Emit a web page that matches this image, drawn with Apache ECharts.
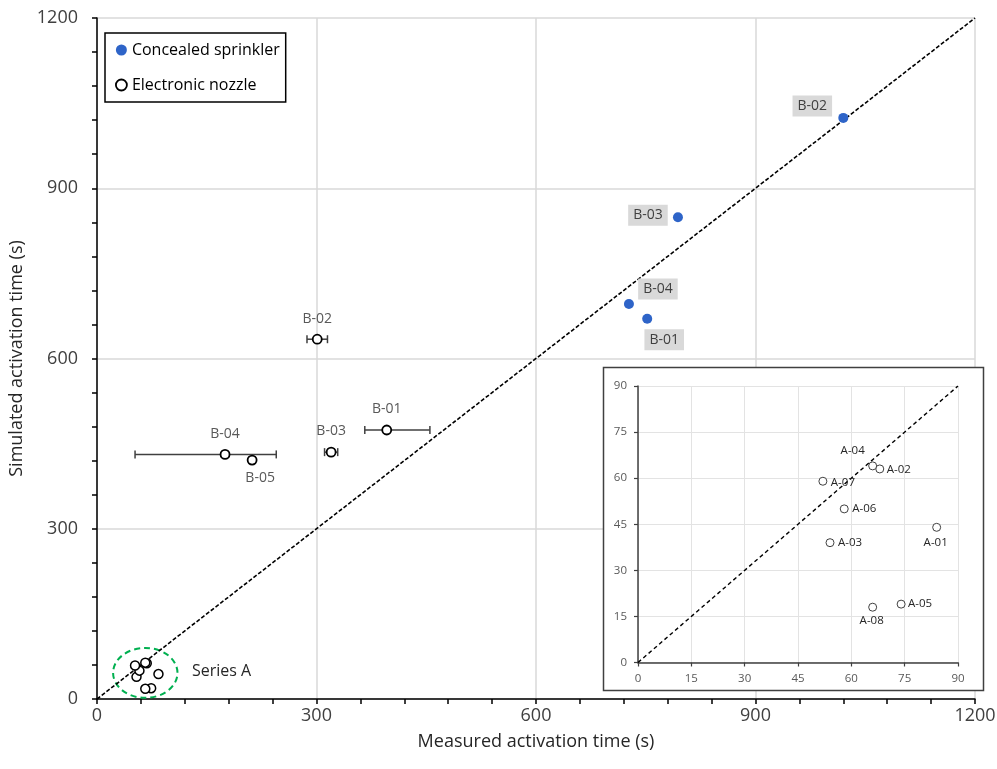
<!DOCTYPE html>
<html><head><meta charset="utf-8">
<script src="https://cdn.jsdelivr.net/npm/echarts@6/dist/echarts.min.js"></script>
<style>html,body{margin:0;padding:0;background:#fff}#c{width:997px;height:769px}</style>
</head><body><div id="c"></div>
<script>
// ---- data ----
const sprinklerNames = ['B-01','B-02','B-03','B-04'];
const sprinklerX = [752, 1020, 794, 727];
const sprinklerY = [670, 1024, 849, 696];

const nozzleBNames = ['B-01','B-02','B-03','B-04','B-05'];
const nozzleBX = [396, 301, 320, 175, 212];
const nozzleBY = [474, 634, 435, 431, 421];
const nozzleBErrLow  = [366, 287, 311, 52, null];
const nozzleBErrHigh = [455, 315, 329, 245, null];

const seriesANames = ['A-01','A-02','A-03','A-04','A-05','A-06','A-07','A-08'];
const seriesAX = [84, 68, 54, 66, 74, 58, 52, 66];
const seriesAY = [44, 63, 39, 64, 19, 50, 59, 18];

const seriesAEllipse = [66, 46, 44]; // centre x, centre y, radius (data units)

const mainTicks = [0, 300, 600, 900, 1200];
const insetTicks = [0, 15, 30, 45, 60, 75, 90];

// ---- label placement (style) ----
const sprLabelOffset = {'B-01':[17,21],'B-02':[-31,-12],'B-03':[-30,-2],'B-04':[29,-15]};
const nozLabelOffset = {'B-01':[0,-21],'B-02':[0,-20],'B-03':[0,-21],'B-04':[0,-20],'B-05':[8,18]};
const insetLabelOffset = {'A-01':[-1,15],'A-02':[19,1],'A-03':[20,0],'A-04':[-20,-15],'A-05':[19,0],'A-06':[20,0],'A-07':[20,1],'A-08':[-1,14]};

const FONT = 'Open Sans';
const chart = echarts.init(document.getElementById('c'));

const sprData = sprinklerNames.map((n,i)=>({
  name:n, value:[sprinklerX[i], sprinklerY[i]],
  label:{show:true, position:'inside', offset:sprLabelOffset[n], formatter:n,
    backgroundColor:'#d9d9d9', padding:[4,5,3,5], color:'#404040', fontSize:14, fontFamily:FONT}
}));
const nozData = nozzleBNames.map((n,i)=>({
  name:n, value:[nozzleBX[i], nozzleBY[i]],
  label:{show:true, position:'inside', offset:nozLabelOffset[n], formatter:n,
    color:'#595959', fontSize:14, fontFamily:FONT}
}));
const errData = [];
nozzleBNames.forEach((n,i)=>{ if(nozzleBErrLow[i]!=null) errData.push([nozzleBX[i], nozzleBY[i], nozzleBErrLow[i], nozzleBErrHigh[i]]); });
const aMainData = seriesANames.map((n,i)=>[seriesAX[i], seriesAY[i]]);
const aInsetData = seriesANames.map((n,i)=>({
  name:n, value:[seriesAX[i], seriesAY[i]],
  label:{show:true, position:'inside', offset:insetLabelOffset[n], formatter:n,
    color:'#262626', fontSize:11.5, fontFamily:FONT}
}));

const fmt = v => String(v);
const mainAxisCommon = {
  type:'value', min:0, max:1200, interval:300,
  axisLine:{show:true, onZero:false, lineStyle:{color:'#000', width:1.5}},
  axisTick:{show:true, length:5, lineStyle:{color:'#000', width:1.5}},
  minorTick:{show:true, splitNumber:5, length:5, lineStyle:{color:'#000', width:1.5}},
  splitLine:{show:true, lineStyle:{color:'#d9d9d9', width:1.5}},
  axisLabel:{color:'#404040', fontSize:18, fontFamily:FONT, formatter:fmt},
  nameTextStyle:{color:'#262626', fontSize:18, fontFamily:FONT},
  nameLocation:'middle'
};
const insetAxisCommon = {
  type:'value', min:0, max:90, interval:15, z:3,
  axisLine:{show:true, onZero:false, lineStyle:{color:'#404040', width:1.5}},
  axisTick:{show:true, length:4, lineStyle:{color:'#404040', width:1.2}},
  splitLine:{show:true, lineStyle:{color:'#e3e3e3', width:1}},
  axisLabel:{color:'#595959', fontSize:11.5, fontFamily:FONT, formatter:fmt}
};

chart.setOption({
  animation:false,
  backgroundColor:'#fff',
  grid:[
    {left:97, right:22, top:18, bottom:70, outerBoundsMode:'none', containLabel:false},
    {left:638, top:386, width:320, height:276.5, outerBoundsMode:'none', containLabel:false, z:3}
  ],
  xAxis:[
    Object.assign({}, mainAxisCommon, {gridIndex:0, name:'Measured activation time (s)', nameGap:34,
      axisLabel:Object.assign({}, mainAxisCommon.axisLabel, {margin:8})}),
    Object.assign({}, insetAxisCommon, {gridIndex:1, axisLabel:Object.assign({}, insetAxisCommon.axisLabel, {margin:10})})
  ],
  yAxis:[
    Object.assign({}, mainAxisCommon, {gridIndex:0, name:'Simulated activation time (s)', nameGap:70,
      axisLabel:Object.assign({}, mainAxisCommon.axisLabel, {margin:19})}),
    Object.assign({}, insetAxisCommon, {gridIndex:1, axisLabel:Object.assign({}, insetAxisCommon.axisLabel, {margin:11})})
  ],
  legend:{
    left:105, top:33, orient:'vertical', padding:[9,6,9,10], itemGap:19,
    borderColor:'#000', borderWidth:1.5, backgroundColor:'#fff',
    itemWidth:11, itemHeight:11,
    textStyle:{color:'#000', fontSize:16, fontFamily:FONT},
    data:[{name:'Concealed sprinkler', icon:'circle'},
          {name:'Electronic nozzle', icon:'circle', itemStyle:{color:'#fff', borderColor:'#000', borderWidth:1.8}}]
  },
  graphic:[
    {type:'rect', z:1, shape:{x:603.5, y:367.5, width:380, height:323}, style:{fill:'#fff', stroke:'#404040', lineWidth:1.5}},
    {type:'text', z:5, x:192, y:671, style:{text:'Series A', font:'16px "Open Sans"', fill:'#262626', verticalAlign:'middle'}}
  ],
  series:[
    {type:'line', xAxisIndex:0, yAxisIndex:0, data:[[0,0],[1200,1200]], symbol:'none', silent:true,
     lineStyle:{color:'#000', width:1.6, type:[4,2]}, z:2},
    {type:'custom', xAxisIndex:0, yAxisIndex:0, data:[seriesAEllipse], silent:true, z:2,
     renderItem:(params, api)=>{
       const c = api.coord([api.value(0), api.value(1)]);
       const rx = api.size([api.value(2),0])[0];
       const ry = api.size([0,api.value(2)])[1];
       return {type:'path', shape:{pathData:'M0,50A50,50,0,1,0,100,50A50,50,0,1,0,0,50Z', layout:'cover',
         x:c[0]-rx, y:c[1]-ry, width:2*rx, height:2*ry},
         style:{fill:'none', stroke:'#00b050', lineWidth:2, lineDash:[6,4]}};
     }},
    {type:'custom', name:'errors', xAxisIndex:0, yAxisIndex:0, data:errData, silent:true, z:3,
     encode:{x:[0,2,3], y:1},
     renderItem:(params, api)=>{
       const y = api.value(1);
       const p1 = api.coord([api.value(2), y]);
       const p2 = api.coord([api.value(3), y]);
       const st = {stroke:'#404040', lineWidth:1.5};
       return {type:'group', children:[
         {type:'line', shape:{x1:p1[0], y1:p1[1], x2:p2[0], y2:p2[1]}, style:st},
         {type:'line', shape:{x1:p1[0], y1:p1[1]-4, x2:p1[0], y2:p1[1]+4}, style:st},
         {type:'line', shape:{x1:p2[0], y1:p2[1]-4, x2:p2[0], y2:p2[1]+4}, style:st}
       ]};
     }},
    {type:'scatter', name:'Concealed sprinkler', xAxisIndex:0, yAxisIndex:0, data:sprData,
     symbol:'circle', symbolSize:10, itemStyle:{color:'#2e64c8', opacity:1}, z:4},
    {type:'scatter', name:'Electronic nozzle', xAxisIndex:0, yAxisIndex:0, data:nozData,
     symbol:'circle', symbolSize:9, itemStyle:{color:'#fff', borderColor:'#000', borderWidth:1.8, opacity:1}, z:4},
    {type:'scatter', name:'Electronic nozzle', xAxisIndex:0, yAxisIndex:0, data:aMainData,
     symbol:'circle', symbolSize:9, itemStyle:{color:'#fff', borderColor:'#000', borderWidth:1.5, opacity:1}, z:4},
    {type:'line', xAxisIndex:1, yAxisIndex:1, data:[[0,0],[90,90]], symbol:'none', silent:true,
     lineStyle:{color:'#000', width:1.4, type:[4,3]}, z:4},
    {type:'scatter', name:'inset', xAxisIndex:1, yAxisIndex:1, data:aInsetData,
     symbol:'circle', symbolSize:8, itemStyle:{color:'#fff', borderColor:'#404040', borderWidth:1, opacity:1}, z:5}
  ]
});
</script></body></html>
